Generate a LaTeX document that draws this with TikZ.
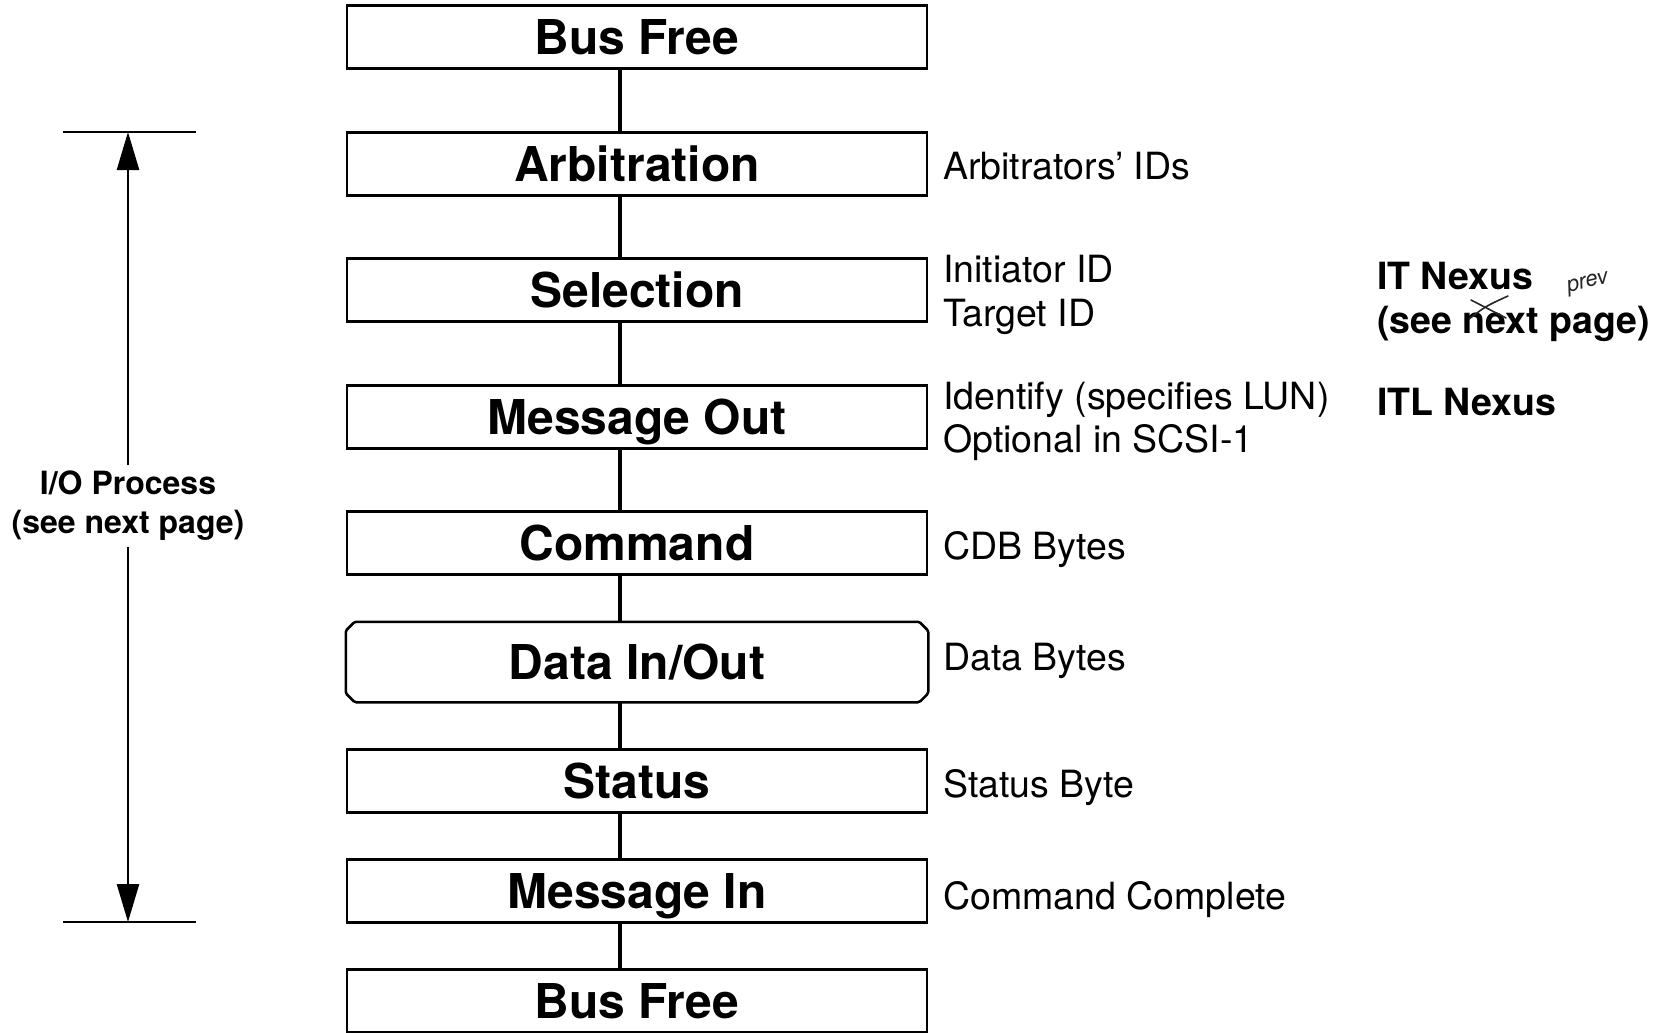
\documentclass[tikz,border=0pt]{standalone}
\usepackage{fontspec}
\setmainfont{TeX Gyre Heros}
\usetikzlibrary{arrows.meta}

\begin{document}
\begin{tikzpicture}[x=1pt,y=-1pt,
  phase/.style={draw, line width=2.5pt, minimum width=580pt, minimum height=63pt,
    inner sep=0pt, text height=34.5pt, text depth=0pt,
    font=\fontsize{48}{48}\selectfont\bfseries},
  datastep/.style={phase, draw=none, minimum height=78pt},
  outline/.style={line width=2.5pt, rounded corners=1.5pt},
  link/.style={line width=4pt},
  note/.style={anchor=west, inner sep=0pt, text height=27pt, text depth=0pt,
    font=\fontsize{37.5}{37.5}\selectfont},
  nexus/.style={note, font=\fontsize{37.5}{37.5}\selectfont\bfseries},
  dim/.style={line width=2.5pt},
  iolabel/.style={align=center, inner sep=6pt,
    font=\fontsize{32}{39}\selectfont\bfseries},
  scrawl/.style={line width=1.6pt, line cap=round, black!85}
]
\useasboundingbox (0,0) rectangle (1660,1033);

% bus phases, top to bottom
\node[phase]    (bf1)  at (637,37)   {Bus Free};
\node[phase]    (arb)  at (637,164)  {Arbitration};
\node[phase]    (sel)  at (637,290)  {Selection};
\node[phase]    (mout) at (637,417)  {Message Out};
\node[phase]    (cmd)  at (637,543)  {Command};
\node[datastep] (dat)  at (637,662)  {Data In/Out};
\node[phase]    (sta)  at (637,781)  {Status};
\node[phase]    (min)  at (637,891)  {Message In};
\node[phase]    (bf2)  at (637,1001) {Bus Free};

% data phase outline with clipped corners
\draw[outline]
  ([xshift=9pt]dat.north west) -- ([xshift=-9pt]dat.north east)
  -- ([yshift=-9pt]dat.north east) -- ([yshift=9pt]dat.south east)
  -- ([xshift=-9pt]dat.south east) -- ([xshift=9pt]dat.south west)
  -- ([yshift=9pt]dat.south west) -- ([yshift=-9pt]dat.north west) -- cycle;

% vertical spine joining the phases
\coordinate (spine) at (620,0);
\foreach \a/\b in {bf1/arb, arb/sel, sel/mout, mout/cmd, cmd/dat, dat/sta, sta/min, min/bf2}
  \draw[link] (\a.south -| spine) -- (\b.north -| spine);

% information carried in each phase
\node[note] (n1) at (943,166) {Arbitrators’ IDs};
\node[note] (n2) at (943,269) {Initiator ID};
\node[note] (n3) at (943,313) {Target ID};
\node[note] (n4) at (943,396) {Identify (specifies LUN)};
\node[note] (n5) at (943,439) {Optional in SCSI-1};
\node[note] (n6) at (943,546) {CDB Bytes};
\node[note] (n7) at (943,657) {Data Bytes};
\node[note] (n8) at (943,784) {Status Byte};
\node[note] (n9) at (943,896) {Command Complete};

% nexus annotations
\node[nexus] (itn)  at (1377,276) {IT Nexus};
\node[nexus] (itp)  at (1377,320) {(see next page)};
\node[nexus] (itln) at (1377,402) {ITL Nexus};

% handwritten correction over "next"
\draw[scrawl] (1471,300) -- (1506,318);
\draw[scrawl] (1469,319) .. controls (1486,306) .. (1508,296);
\node[font=\fontsize{22}{22}\selectfont\itshape, text=black!85, rotate=14, inner sep=0pt]
  (prv) at (1588,284) {prev};

% extent of the I/O process
\coordinate (tl) at (63,132);  \coordinate (tr) at (196,132);
\coordinate (bl) at (63,922);  \coordinate (br) at (196,922);
\coordinate (ttip) at (128,132);
\coordinate (btip) at (128,922);
\draw[dim] (tl) -- (tr);
\draw[dim] (bl) -- (br);
\node[iolabel] (io) at (128,506) {I/O Process\\(see next page)};
\draw[dim, -{Triangle[length=38pt, width=22pt]}] (io.north) -- (ttip);
\draw[dim, -{Triangle[length=38pt, width=22pt]}] (io.south) -- (btip);
\end{tikzpicture}
\end{document}
